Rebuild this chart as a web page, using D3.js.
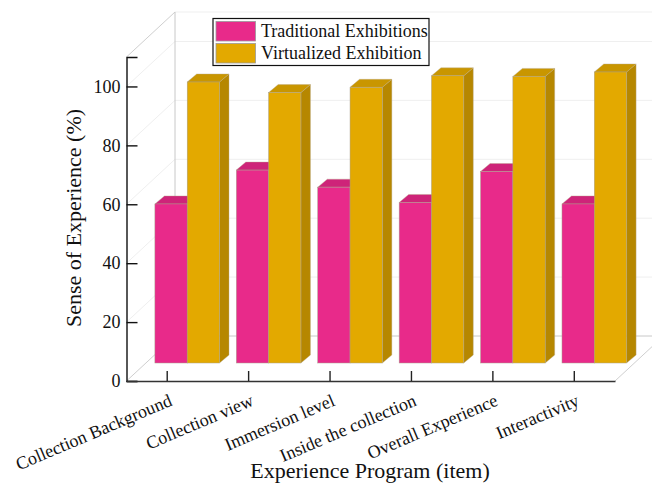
<!DOCTYPE html>
<html lang="en">
<head>
<meta charset="UTF-8"/>
<title>Sense of Experience</title>
<style>
body { margin: 0; background: #fff; }
text { font-family: "Liberation Serif", serif; fill: #111; }
</style>
<script src="https://d3js.org/d3.v7.min.js"></script>
</head>
<body>
<div id="chart"></div>
<script>
// data
var categories = ["Collection Background", "Collection view", "Immersion level",
	"Inside the collection", "Overall Experience", "Interactivity"];
var traditional = [54, 65.5, 59.7, 54.5, 65, 54];
var virtualized = [95.4, 91.8, 93.6, 97.5, 97.3, 98.8];
var seriesNames = ["Traditional Exhibitions", "Virtualized Exhibition"];
var yTicks = [0, 20, 40, 60, 80, 100];

var w = 652, h = 484;

// depth of the 3D box and of the bars
var depthX = 48.5, depthY = 45;
var planeX = 20, planeY = 18;
var barDX = 9.5, barDY = 8;

var colors = [
	{ front: "#E82A8A", top: "#CE2479", side: "#B0186A" },
	{ front: "#E3A900", top: "#C99600", side: "#B68700" }
];

var svg = d3.select("#chart").append("svg").attr("width", w).attr("height", h);

var xScale = d3.scaleBand().domain(categories).range([126.5, 615]);
var yScale = d3.scaleLinear().domain([0, 110]).range([381, 57]);

var x0 = xScale.range()[0], x1 = xScale.range()[1];

var grid = svg.append("g");

// back wall gridlines
grid.selectAll(".back").data(yTicks.slice(1).concat([110])).enter().append("line")
	.attr("x1", x0 + depthX).attr("x2", w)
	.attr("y1", function(d) { return yScale(d) - depthY; })
	.attr("y2", function(d) { return yScale(d) - depthY; })
	.attr("stroke", "#efefef").attr("stroke-width", 1);

// side wall gridlines
grid.selectAll(".side").data(yTicks.slice(1).concat([110])).enter().append("line")
	.attr("x1", x0).attr("x2", x0 + depthX)
	.attr("y1", function(d) { return yScale(d); })
	.attr("y2", function(d) { return yScale(d) - depthY; })
	.attr("stroke", function(d) { return d == 110 ? "#cfcfcf" : "#efefef"; })
	.attr("stroke-width", 1);

// wall edges and floor
grid.append("line").attr("x1", x0 + depthX).attr("x2", x0 + depthX)
	.attr("y1", yScale(110) - depthY).attr("y2", yScale(0) - depthY)
	.attr("stroke", "#c8c8c8");
grid.append("line").attr("x1", x0 + depthX).attr("x2", w)
	.attr("y1", yScale(0) - depthY).attr("y2", yScale(0) - depthY)
	.attr("stroke", "#c8c8c8");
grid.append("line").attr("x1", x0).attr("x2", x0 + depthX)
	.attr("y1", yScale(0)).attr("y2", yScale(0) - depthY)
	.attr("stroke", "#cfcfcf");
grid.append("line").attr("x1", x1).attr("x2", x1 + depthX)
	.attr("y1", yScale(0)).attr("y2", yScale(0) - depthY)
	.attr("stroke", "#cfcfcf");

// bars, pink first so the gold ones sit over their tops
var barW = 32.3;
[traditional, virtualized].forEach(function(values, s) {
	var g = svg.append("g");
	values.forEach(function(v, i) {
		var left = xScale(categories[i]) + xScale.bandwidth() / 2 + planeX - barW + s * barW;
		var right = left + barW;
		var top = yScale(v) - planeY;
		var base = yScale(0) - planeY;

		g.append("polygon")
			.attr("points", [[right, top], [right + barDX, top - barDY], [right + barDX, base - barDY], [right, base]].join(" "))
			.attr("fill", colors[s].side).attr("stroke", "#b9a98a").attr("stroke-width", 0.4);
		g.append("polygon")
			.attr("points", [[left, top], [left + barDX, top - barDY], [right + barDX, top - barDY], [right, top]].join(" "))
			.attr("fill", colors[s].top).attr("stroke", "#b9a98a").attr("stroke-width", 0.4);
		g.append("rect")
			.attr("x", left).attr("y", top)
			.attr("width", barW).attr("height", base - top)
			.attr("fill", colors[s].front).attr("stroke", "#a8a08c").attr("stroke-width", 0.5);
	});
});

// axes
var yAxis = d3.axisLeft(yScale).tickValues(yTicks).tickSize(-11).tickPadding(5).tickFormat(d3.format("d"));
var gy = svg.append("g").attr("transform", "translate(" + x0 + ",0)").call(yAxis);
gy.selectAll("text").attr("font-size", "18px").attr("dx", "-1");
gy.selectAll("line").attr("stroke", "#111").attr("stroke-width", 1.4);
gy.select(".domain").attr("stroke", "#111").attr("stroke-width", 1.4);

var xAxis = d3.axisBottom(xScale).tickSize(-10).tickPadding(0).tickSizeOuter(0);
var gx = svg.append("g").attr("transform", "translate(0," + yScale(0) + ")").call(xAxis);
gx.selectAll("line").attr("stroke", "#222").attr("stroke-width", 1.4);
gx.select(".domain").attr("stroke", "#333").attr("stroke-width", 1.4);
gx.selectAll("text")
	.attr("font-size", "18px")
	.attr("text-anchor", "end")
	.attr("y", 0).attr("dy", 0)
	.attr("transform", "translate(6,24) rotate(-23)");

// axis titles
svg.append("text").attr("x", 370).attr("y", 478).attr("text-anchor", "middle")
	.attr("font-size", "22px").text("Experience Program (item)");
svg.append("text").attr("transform", "translate(81,218) rotate(-90)").attr("text-anchor", "middle")
	.attr("font-size", "22px").text("Sense of Experience (%)");

// legend
var legend = svg.append("g");
legend.append("rect").attr("x", 213).attr("y", 18.5).attr("width", 216).attr("height", 47)
	.attr("fill", "#fff").attr("stroke", "#111").attr("stroke-width", 1.2);
seriesNames.forEach(function(name, i) {
	legend.append("rect").attr("x", 216).attr("y", 21.5 + i * 22).attr("width", 39.5).attr("height", 19.5)
		.attr("fill", colors[i].front).attr("stroke", "#999").attr("stroke-width", 0.8);
	legend.append("text").attr("x", 261).attr("y", 37 + i * 22)
		.attr("font-size", "18px").text(name);
});
</script>
</body>
</html>
